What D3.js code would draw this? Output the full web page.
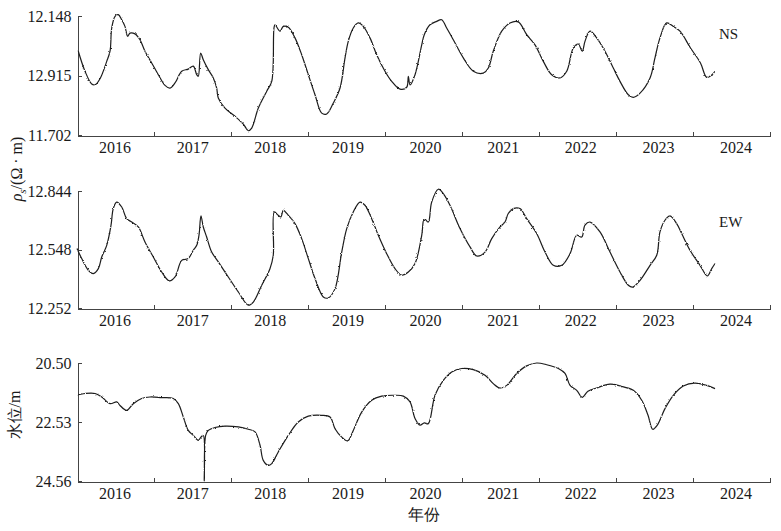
<!DOCTYPE html>
<html>
<head>
<meta charset="utf-8">
<script src="https://cdn.jsdelivr.net/npm/d3@7"></script>
<style>
  html, body { margin: 0; padding: 0; background: #fff; }
  svg { display: block; }
  text { font-family: "Liberation Serif", "Times New Roman", serif; fill: #1a1a1a; }
</style>
</head>
<body>
<svg id="chart" width="781" height="531"></svg>
<script>
// ---- Data (decimal year, value) ----
const xTickLabels = ["2016","2017","2018","2019","2020","2021","2022","2023","2024"];
const xLabelYears = [2016,2017,2018,2019,2020,2021,2022,2023,2024];
const xTickYears = [2016.5,2017.5,2018.5,2019.5,2020.5,2021.5,2022.5,2023.5,2024.5];

const nsTickValues = [11.702, 11.925, 12.148];
const nsTickLabels = ["11.702", "12.915", "12.148"];
const ewTickValues = [12.252, 12.548, 12.844];
const ewTickLabels = ["12.252", "12.548", "12.844"];
const wlTickValues = [24.56, 22.53, 20.50];
const wlTickLabels = ["24.56", "22.53", "20.50"];

const nsYears = [2015.517,2015.604,2015.691,2015.734,2015.799,2015.886,2015.929,2015.951,2015.994,2016.036,2016.081,2016.123,2016.158,2016.188,2016.253,2016.318,2016.383,2016.470,2016.556,2016.643,2016.708,2016.773,2016.860,2016.945,2017.010,2017.055,2017.075,2017.106,2017.140,2017.205,2017.270,2017.314,2017.335,2017.422,2017.552,2017.660,2017.725,2017.769,2017.855,2017.964,2018.029,2018.058,2018.071,2018.136,2018.179,2018.244,2018.331,2018.418,2018.504,2018.591,2018.678,2018.743,2018.829,2018.916,2018.981,2019.023,2019.088,2019.153,2019.218,2019.305,2019.392,2019.500,2019.587,2019.695,2019.782,2019.803,2019.825,2019.890,2019.977,2020.010,2020.084,2020.171,2020.236,2020.301,2020.387,2020.517,2020.647,2020.777,2020.842,2020.906,2021.016,2021.123,2021.231,2021.340,2021.448,2021.556,2021.665,2021.773,2021.860,2021.945,2022.010,2022.062,2022.097,2022.162,2022.249,2022.357,2022.465,2022.552,2022.660,2022.725,2022.812,2022.942,2023.006,2023.071,2023.158,2023.244,2023.331,2023.468,2023.597,2023.678,2023.747,2023.786];
const nsValues = [12.016,11.941,11.893,11.890,11.913,11.978,12.016,12.103,12.147,12.153,12.134,12.109,12.072,12.084,12.081,12.059,12.016,11.972,11.928,11.888,11.878,11.897,11.941,11.949,11.960,11.928,11.922,12.009,11.984,11.947,11.916,11.878,11.841,11.803,11.772,11.743,11.718,11.728,11.803,11.866,11.903,12.103,12.115,12.091,12.109,12.106,12.066,12.003,11.928,11.853,11.784,11.781,11.822,11.878,11.991,12.053,12.103,12.122,12.109,12.066,12.003,11.941,11.903,11.874,11.881,11.922,11.890,11.928,12.040,12.078,12.115,12.128,12.134,12.103,12.059,11.991,11.941,11.934,11.953,12.016,12.091,12.122,12.126,12.078,12.040,11.978,11.928,11.916,11.941,12.028,12.043,12.016,12.053,12.091,12.066,12.016,11.953,11.903,11.853,11.843,11.859,11.916,11.991,12.066,12.122,12.109,12.091,12.028,11.972,11.918,11.928,11.941];

const ewYears = [2015.500,2015.561,2015.647,2015.712,2015.777,2015.821,2015.886,2015.942,2015.971,2016.016,2016.081,2016.145,2016.210,2016.296,2016.383,2016.491,2016.600,2016.699,2016.773,2016.860,2016.945,2017.010,2017.055,2017.084,2017.110,2017.140,2017.184,2017.249,2017.335,2017.465,2017.595,2017.725,2017.790,2017.899,2018.006,2018.049,2018.062,2018.114,2018.149,2018.179,2018.244,2018.331,2018.418,2018.504,2018.591,2018.699,2018.764,2018.851,2018.938,2019.003,2019.088,2019.175,2019.240,2019.327,2019.413,2019.522,2019.630,2019.717,2019.803,2019.890,2019.977,2020.010,2020.062,2020.106,2020.192,2020.257,2020.344,2020.474,2020.604,2020.691,2020.799,2020.886,2020.994,2021.058,2021.101,2021.166,2021.253,2021.340,2021.470,2021.578,2021.686,2021.795,2021.903,2021.990,2022.055,2022.097,2022.162,2022.292,2022.422,2022.552,2022.660,2022.717,2022.812,2022.942,2023.029,2023.071,2023.136,2023.201,2023.288,2023.353,2023.461,2023.591,2023.686,2023.743,2023.786];
const ewValues = [12.553,12.502,12.443,12.426,12.451,12.510,12.569,12.671,12.755,12.788,12.763,12.704,12.687,12.662,12.586,12.510,12.434,12.389,12.409,12.493,12.502,12.544,12.569,12.620,12.718,12.662,12.611,12.535,12.485,12.409,12.333,12.266,12.282,12.367,12.451,12.519,12.738,12.721,12.713,12.746,12.721,12.679,12.603,12.502,12.401,12.308,12.303,12.350,12.535,12.654,12.738,12.788,12.772,12.704,12.620,12.527,12.451,12.418,12.434,12.477,12.620,12.704,12.687,12.788,12.853,12.831,12.772,12.654,12.561,12.515,12.535,12.603,12.662,12.687,12.730,12.755,12.755,12.704,12.629,12.535,12.468,12.468,12.527,12.620,12.611,12.671,12.687,12.637,12.535,12.434,12.367,12.358,12.392,12.468,12.519,12.637,12.696,12.718,12.679,12.629,12.544,12.468,12.414,12.451,12.477];

const wlYears = [2015.517,2015.604,2015.734,2015.821,2015.929,2016.016,2016.058,2016.145,2016.231,2016.340,2016.448,2016.600,2016.751,2016.816,2016.881,2016.945,2017.010,2017.075,2017.110,2017.140,2017.153,2017.171,2017.205,2017.292,2017.422,2017.595,2017.725,2017.812,2017.877,2017.919,2017.984,2018.029,2018.114,2018.244,2018.374,2018.504,2018.678,2018.786,2018.851,2018.938,2019.016,2019.088,2019.197,2019.327,2019.457,2019.630,2019.738,2019.825,2019.890,2019.955,2020.010,2020.062,2020.149,2020.257,2020.366,2020.496,2020.647,2020.799,2020.906,2020.994,2021.081,2021.210,2021.340,2021.470,2021.600,2021.751,2021.838,2021.903,2021.990,2022.062,2022.136,2022.249,2022.422,2022.552,2022.725,2022.834,2022.916,2022.977,2023.036,2023.136,2023.244,2023.374,2023.526,2023.678,2023.786];
const wlValues = [21.59,21.55,21.55,21.67,21.90,21.84,21.96,22.13,21.90,21.72,21.67,21.69,21.72,21.90,22.36,22.82,22.99,23.16,23.05,22.99,24.56,22.99,22.82,22.72,22.67,22.70,22.78,22.87,23.33,23.85,24.02,23.96,23.56,22.99,22.53,22.33,22.30,22.36,22.76,23.05,23.18,22.82,22.19,21.78,21.64,21.61,21.64,21.84,22.41,22.64,22.56,22.59,21.61,21.10,20.81,20.69,20.73,20.92,21.21,21.36,21.27,20.86,20.60,20.50,20.56,20.69,20.86,21.27,21.44,21.68,21.47,21.36,21.23,21.29,21.44,21.78,22.30,22.78,22.64,22.07,21.61,21.29,21.19,21.27,21.38];

// ---- Layout ----
const svg = d3.select("#chart");

// subtle jitter filter to mimic the noisy recorded trace
const defs = svg.append("defs");
const f = defs.append("filter").attr("id", "jitter")
  .attr("x", "-2%").attr("y", "-5%").attr("width", "104%").attr("height", "110%");
f.append("feTurbulence").attr("type", "fractalNoise").attr("baseFrequency", 0.6)
  .attr("numOctaves", 2).attr("seed", 3).attr("result", "n");
f.append("feDisplacementMap").attr("in", "SourceGraphic").attr("in2", "n")
  .attr("scale", 2.2).attr("xChannelSelector", "R").attr("yChannelSelector", "G");

const x = d3.scaleLinear().domain([2015.5, 2024.5]).range([77, 770]);
const xLabel = d3.scaleLinear().domain([2016, 2024]).range([115, 736]);

const panels = [
  { years: nsYears, values: nsValues, domain: [11.702, 12.148], range: [135, 16], ticks: nsTickValues, labels: nsTickLabels, tag: "NS", tagY: 39 },
  { years: ewYears, values: ewValues, domain: [12.252, 12.844], range: [308, 191], ticks: ewTickValues, labels: ewTickLabels, tag: "EW", tagY: 227 },
  { years: wlYears, values: wlValues, domain: [20.50, 24.56], range: [363, 481], ticks: wlTickValues, labels: wlTickLabels, tag: null }
];

panels.forEach(p => {
  const y = d3.scaleLinear().domain(p.domain).range(p.range);
  const base = Math.max(p.range[0], p.range[1]);
  const g = svg.append("g");

  // x axis
  const xa = g.append("g")
    .attr("transform", `translate(0,${base + 0.5})`)
    .call(d3.axisBottom(x).tickValues(xTickYears).tickSize(-4).tickSizeOuter(0).tickFormat(""));
  xa.selectAll("path, line").attr("stroke", "#444").attr("shape-rendering", "crispEdges");

  g.selectAll("text.xl").data(xTickLabels).enter().append("text")
    .attr("class", "xl")
    .attr("x", (d, i) => xLabel(xLabelYears[i]))
    .attr("y", base + 18)
    .attr("text-anchor", "middle")
    .attr("font-size", 16)
    .text(d => d);

  // y axis
  const ya = g.append("g")
    .attr("transform", "translate(77.5,0)")
    .call(d3.axisLeft(y).tickValues(p.ticks).tickSize(-4).tickSizeOuter(0).tickPadding(6)
      .tickFormat((d, i) => p.labels[i]));
  ya.selectAll("path, line").attr("stroke", "#444").attr("shape-rendering", "crispEdges");
  ya.selectAll("text").attr("font-size", 16).attr("font-family", "Liberation Serif, serif").attr("fill", "#1a1a1a");

  // line
  const pts = p.years.map((yr, i) => [yr, p.values[i]]);
  g.append("path")
    .datum(pts)
    .attr("fill", "none")
    .attr("stroke", "#1c1c1c")
    .attr("stroke-width", 1.2)
    .attr("stroke-linejoin", "round")
    .attr("filter", "url(#jitter)")
    .attr("d", d3.line().curve(d3.curveCatmullRom.alpha(0.5)).x(d => x(d[0])).y(d => y(d[1])));

  if (p.tag) {
    g.append("text").attr("x", 719).attr("y", p.tagY).attr("font-size", 15).text(p.tag);
  }
});

// y titles
const t1 = svg.append("text")
  .attr("transform", "translate(22,169) rotate(-90)")
  .attr("text-anchor", "middle")
  .attr("font-size", 16);
t1.append("tspan").attr("font-style", "italic").text("ρ");
t1.append("tspan").attr("font-style", "italic").attr("font-size", 11).attr("dy", 4).text("s");
t1.append("tspan").attr("dy", -4).text("/(Ω · m)");

svg.append("text")
  .attr("transform", "translate(20,415) rotate(-90)")
  .attr("text-anchor", "middle")
  .attr("font-size", 16)
  .attr("font-family", "Noto Sans CJK SC, sans-serif")
  .text("水位/m");

svg.append("text")
  .attr("x", 424).attr("y", 520)
  .attr("text-anchor", "middle")
  .attr("font-size", 16)
  .attr("font-family", "Noto Sans CJK SC, sans-serif")
  .text("年份");
</script>
</body>
</html>
